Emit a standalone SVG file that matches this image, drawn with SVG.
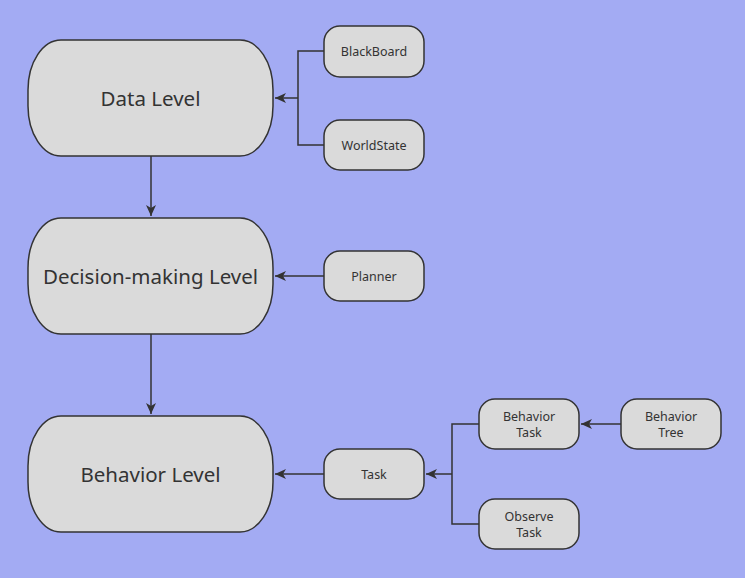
<svg xmlns="http://www.w3.org/2000/svg" width="745" height="578" viewBox="0 0 745 578">
<defs>
<marker id="arr" markerWidth="12" markerHeight="10" refX="11" refY="5" orient="auto" markerUnits="userSpaceOnUse">
<path d="M0,0 L11,5 L0,10 L3,5 Z" fill="#333"/>
</marker>
<style>
.big rect{fill:#dadada;stroke:#333;stroke-width:1.5}
.sm rect{fill:#dadada;stroke:#333;stroke-width:1.5}
.big text{font-family:"Noto Sans","Open Sans",sans-serif;font-size:20.5px;fill:#333;text-anchor:middle;dominant-baseline:central}
.sm text{font-family:"Noto Sans","Open Sans",sans-serif;font-size:12.5px;fill:#333;text-anchor:middle;dominant-baseline:central}
#connectors path{fill:none;stroke:#333;stroke-width:1.5}
</style>
</defs>
<rect width="745" height="578" fill="#a3abf3"/>
<g id="connectors">
<path d="M151,156 V216" marker-end="url(#arr)"/>
<path d="M151,334 V414" marker-end="url(#arr)"/>
<path d="M324,51 H298 V145 H324"/>
<path d="M298,98 H275" marker-end="url(#arr)"/>
<path d="M324,276 H275" marker-end="url(#arr)"/>
<path d="M324,474 H275" marker-end="url(#arr)"/>
<path d="M479,424 H452 V524 H479"/>
<path d="M452,474 H426" marker-end="url(#arr)"/>
<path d="M621,424 H581" marker-end="url(#arr)"/>
</g>
<g id="data-level" class="big"><rect x="28" y="40" width="245" height="116" rx="33" ry="50"/><text x="150.5" y="98">Data Level</text></g>
<g id="decision-level" class="big"><rect x="28" y="218" width="245" height="116" rx="33" ry="50"/><text x="150.5" y="276">Decision-making Level</text></g>
<g id="behavior-level" class="big"><rect x="28" y="416" width="245" height="116" rx="33" ry="50"/><text x="150.5" y="474">Behavior Level</text></g>
<g id="blackboard" class="sm"><rect x="324" y="26" width="100" height="51" rx="16" ry="16"/><text x="374" y="51.5">BlackBoard</text></g>
<g id="worldstate" class="sm"><rect x="324" y="120" width="100" height="50" rx="16" ry="16"/><text x="374" y="145">WorldState</text></g>
<g id="planner" class="sm"><rect x="324" y="251" width="100" height="50" rx="16" ry="16"/><text x="374" y="276">Planner</text></g>
<g id="task" class="sm"><rect x="324" y="449" width="100" height="50" rx="16" ry="16"/><text x="374" y="474">Task</text></g>
<g id="behavior-task" class="sm"><rect x="479" y="399" width="100" height="50" rx="16" ry="16"/><text x="529" y="416">Behavior</text><text x="529" y="432">Task</text></g>
<g id="observe-task" class="sm"><rect x="479" y="499" width="100" height="50" rx="16" ry="16"/><text x="529" y="516">Observe</text><text x="529" y="532">Task</text></g>
<g id="behavior-tree" class="sm"><rect x="621" y="399" width="100" height="50" rx="16" ry="16"/><text x="671" y="416">Behavior</text><text x="671" y="432">Tree</text></g>
</svg>
